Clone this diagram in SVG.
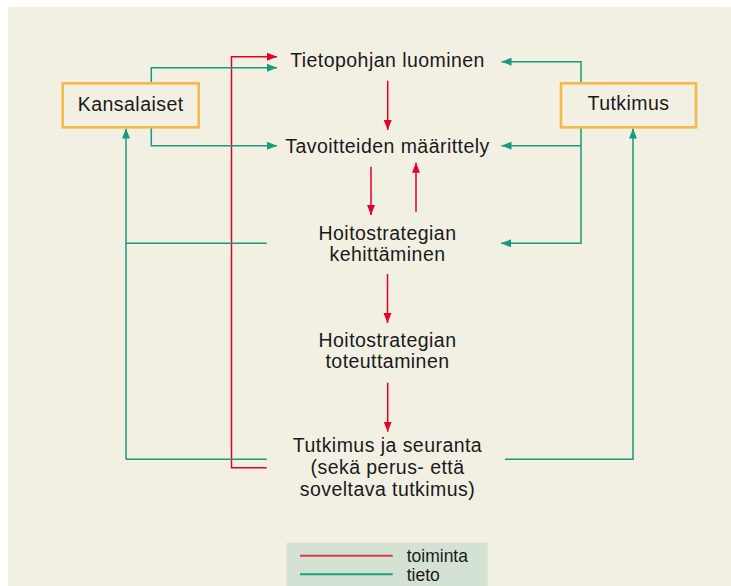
<svg xmlns="http://www.w3.org/2000/svg" width="731" height="586" viewBox="0 0 731 586">
<style>
.lbl{font-family:"Liberation Sans",Arial,sans-serif;font-size:19.5px;letter-spacing:0.45px;fill:#1a1a1a;text-anchor:middle}
.leg{font-family:"Liberation Sans",Arial,sans-serif;font-size:17.5px;fill:#1a1a1a}
.r{stroke:#E3002B;stroke-width:1.5;fill:none}
.g{stroke:#1A9A7C;stroke-width:1.5;fill:none}
.box{fill:none;stroke:#F5B94A;stroke-width:2.6}
</style>
<defs>
<marker id="ar" markerUnits="userSpaceOnUse" markerWidth="11" markerHeight="9" refX="10" refY="4" orient="auto" viewBox="0 0 11 9">
<path d="M0,0 L10,4 L0,8 z" fill="#E3002B"/>
</marker>
<marker id="ag" markerUnits="userSpaceOnUse" markerWidth="11" markerHeight="9" refX="10" refY="4" orient="auto" viewBox="0 0 11 9">
<path d="M0,0 L10,4 L0,8 z" fill="#1A9A7C"/>
</marker>
</defs>
<rect x="8" y="7" width="723" height="579" fill="#F2EFE3"/>
<g id="connectors">
<path class="r" d="M266.7,467.7 H231.5 V56.7 H277" marker-end="url(#ar)"/>
<path class="g" d="M151.3,83 V67.7 H277" marker-end="url(#ag)"/>
<path class="g" d="M151.3,128 V145.7 H277" marker-end="url(#ag)"/>
<path class="g" d="M126,459.3 V128.5" marker-end="url(#ag)"/>
<path class="g" d="M266.7,243.3 H126"/>
<path class="g" d="M266.7,459.3 H126"/>
<path class="g" d="M581,83 V61.7 H501.5" marker-end="url(#ag)"/>
<path class="g" d="M581,128 V243.3 H501" marker-end="url(#ag)"/>
<path class="g" d="M581,145.7 H501.5" marker-end="url(#ag)"/>
<path class="g" d="M505,459.3 H633 V128.5" marker-end="url(#ag)"/>
<path class="r" d="M387.7,80.7 V130" marker-end="url(#ar)"/>
<path class="r" d="M371,166.7 V215" marker-end="url(#ar)"/>
<path class="r" d="M416,211.7 V162.7" marker-end="url(#ar)"/>
<path class="r" d="M387.5,274 V323" marker-end="url(#ar)"/>
<path class="r" d="M387.7,382.7 V431.7" marker-end="url(#ar)"/>
</g>
<g id="kansalaiset">
<rect class="box" x="62.7" y="83.3" width="136" height="44"/>
<text class="lbl" x="130.7" y="110.7">Kansalaiset</text>
</g>
<g id="tutkimus">
<rect class="box" x="561" y="83.3" width="135" height="44"/>
<text class="lbl" x="628.5" y="110.3">Tutkimus</text>
</g>
<g id="tietopohja">
<text class="lbl" x="387.5" y="67.3">Tietopohjan luominen</text>
</g>
<g id="tavoitteet">
<text class="lbl" x="387.5" y="153.3">Tavoitteiden määrittely</text>
</g>
<g id="kehittaminen">
<text class="lbl" x="387.5" y="239.5">Hoitostrategian<tspan x="387.5" dy="21.9">kehittäminen</tspan></text>
</g>
<g id="toteuttaminen">
<text class="lbl" x="387.5" y="346.5">Hoitostrategian<tspan x="387.5" dy="21.9">toteuttaminen</tspan></text>
</g>
<g id="seuranta">
<text class="lbl" x="387.5" y="452.3">Tutkimus ja seuranta<tspan x="387.5" dy="21.9">(sekä perus- että</tspan><tspan x="387.5" dy="21.9">soveltava tutkimus)</tspan></text>
</g>
<g id="legend">
<rect x="286.7" y="542.7" width="201" height="43.3" fill="#D3E2D3"/>
<line x1="300" y1="555.7" x2="392.7" y2="555.7" stroke="#E2344C" stroke-width="2"/>
<line x1="300" y1="574.3" x2="392.7" y2="574.3" stroke="#1AA384" stroke-width="2"/>
<text class="leg" x="406.7" y="562">toiminta</text>
<text class="leg" x="406.7" y="580.7">tieto</text>
</g>
</svg>
